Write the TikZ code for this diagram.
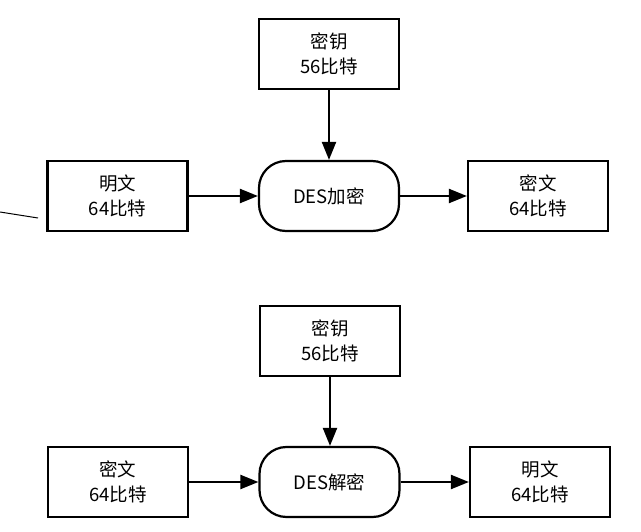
\documentclass[tikz,border=0pt]{standalone}
\usepackage{fontspec}
\setmainfont{Noto Sans CJK SC}
\usetikzlibrary{arrows.meta}
\begin{document}
\begin{tikzpicture}[x=1pt,y=-1pt,
  every node/.style={font=\fontsize{18.5}{25}\selectfont, align=center},
  boxnode/.style={draw, line width=2.2pt, minimum width=140pt, minimum height=70pt, inner sep=0pt},
  procnode/.style={draw, line width=2.2pt, rounded corners=27pt, minimum width=140pt, minimum height=70pt, inner sep=0pt},
  flow/.style={line width=2.2pt, -{Triangle[length=18pt,width=14pt]}}]
\useasboundingbox (0,0) rectangle (641,532);
% top
\node[boxnode] (k1) at (329,54) {密钥\\56比特};
\node[boxnode] (p1) at (117.5,196) {明文\\64比特};
\node[procnode] (e1) at (329,196) {DES加密};
\node[boxnode] (c1) at (538,196) {密文\\64比特};
\draw[flow] (k1) -- (e1);
\draw[flow] (p1) -- (e1);
\draw[flow] (e1) -- (c1);
\coordinate (s1) at (0,212);
\coordinate (s2) at (38,218);
\draw[line width=1pt] (s1) -- (s2);
% bottom
\node[boxnode] (k2) at (330,341) {密钥\\56比特};
\node[boxnode] (c2) at (118,482) {密文\\64比特};
\node[procnode] (d2) at (329.5,482) {DES解密};
\node[boxnode] (p2) at (540,482) {明文\\64比特};
\draw[flow] (k2) -- (k2 |- d2.north);
\draw[flow] (c2) -- (d2);
\draw[flow] (d2) -- (p2);
\end{tikzpicture}
\end{document}
